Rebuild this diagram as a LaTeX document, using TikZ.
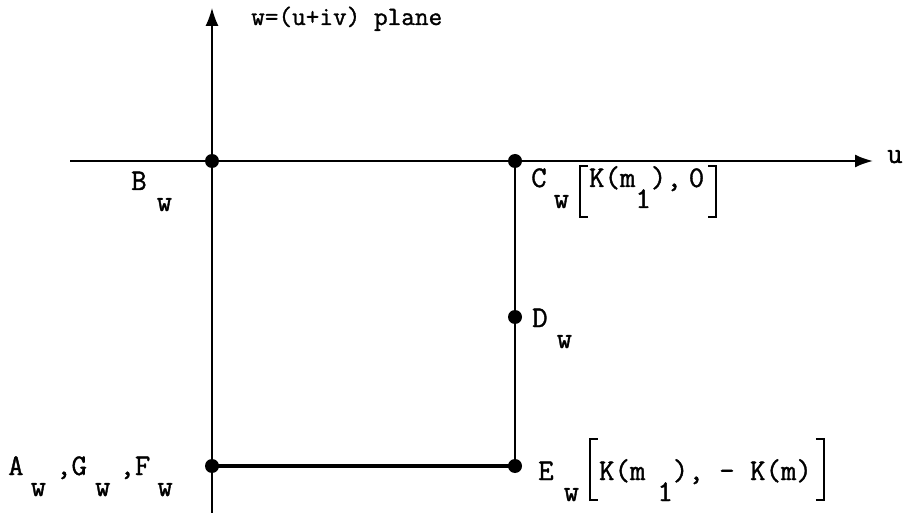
\documentclass[tikz,border=0pt]{standalone}
\usepackage{graphicx}
\usepackage{fontspec}
\newfontfamily\twf{Latin Modern Mono}[FakeBold=1.2]
\usetikzlibrary{arrows.meta}
\newcommand{\sw}[1][9pt]{\hspace{#1}\raisebox{-21pt}{w}}
\newcommand{\sone}[1][0pt]{\hspace{#1}\raisebox{-21pt}{1}}
\newlength\bst
\setlength\bst{2.2pt}
\newcommand{\lbr}[2]{\hspace{10pt}\rlap{\rule[-#2]{\bst}{\dimexpr#1+#2\relax}}\rlap{\rule[\dimexpr#1-\bst\relax]{9pt}{\bst}}\rule[-#2]{9pt}{\bst}\hspace{1pt}}
\newcommand{\rbr}[2]{\hspace{4pt}\rlap{\rule[\dimexpr#1-\bst\relax]{9pt}{\bst}}\rlap{\rule[-#2]{9pt}{\bst}}\hspace{\dimexpr9pt-\bst\relax}\rule[-#2]{\bst}{\dimexpr#1+#2\relax}}
\tikzset{
  lab/.style={anchor=base west, inner sep=0pt, font=\twf\fontsize{30}{32}\selectfont},
  ttl/.style={anchor=base west, inner sep=0pt, font=\twf\fontsize{26.5}{28}\selectfont},
  pt/.style={circle, fill=black, inner sep=0pt, minimum size=14pt},
  axis/.style={line width=#1, -{Latex[length=18pt,width=13pt]}},
}
\begin{document}
\begin{tikzpicture}[x=1pt,y=-1pt]
\useasboundingbox (0,0) rectangle (903,513);
% axes
\coordinate (hl) at (70,161);
\coordinate (hr) at (873,161);
\coordinate (vb) at (212,513);
\coordinate (vt) at (212,8);
\draw[axis=2.2pt] (hl) -- (hr);
\draw[axis=1.4pt] (vb) -- (vt);
% points
\node[pt] (B) at (212,161) {};
\node[pt] (C) at (515,161) {};
\node[pt] (D) at (515,317) {};
\node[pt] (E) at (515,466) {};
\node[pt] (A) at (212,466) {};
\draw[line width=1.3pt] (C.center) -- (E.center);
\draw[line width=3.3pt] (A.center) -- (E.center);
% labels
\node[ttl] (T) at (251,25) {w=(u+iv) plane};
\node[lab] (U) at (887,163) {u};
\node[lab] (Bl) at (131,190) {B\sw[10pt]};
\node[lab] (Cl) at (531,187) {C\sw[7pt]\lbr{22pt}{31pt}K(m\sone),\hspace{7pt}0\rbr{22pt}{31pt}};
\node[lab] (Dl) at (532,327) {D\sw[9pt]};
\node[lab] (Al) at (8,475) {A\sw[7pt]\hspace{10pt},G\sw[8pt]\hspace{9pt},F\sw[7pt]};
\node[lab] (El) at (538,480) {E\sw[10pt]\lbr{42pt}{21pt}K(m\sone[12pt]), - K(m)\rbr{42pt}{21pt}};
\end{tikzpicture}
\end{document}
